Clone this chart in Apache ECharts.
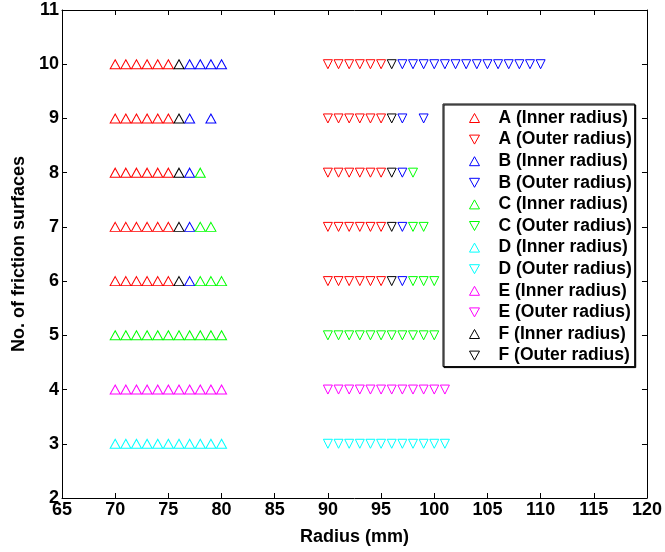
<!DOCTYPE html>
<html>
<head>
<meta charset="utf-8">
<script src="https://cdn.jsdelivr.net/npm/echarts@6/dist/echarts.min.js"></script>
<style>
  html, body { margin: 0; padding: 0; background: #fff; }
  #chart { width: 665px; height: 552px; }
</style>
</head>
<body>
<div id="chart"></div>
<script>
// Radius (mm) vs number of friction surfaces for six designs, A–F.
const xTicks = { min: 65, max: 120, step: 5 };
const yTicks = { min: 2, max: 11, step: 1 };

const aInner = [
  [70,10],[71,10],[72,10],[73,10],[74,10],[75,10],
  [70,9],[71,9],[72,9],[73,9],[74,9],[75,9],
  [70,8],[71,8],[72,8],[73,8],[74,8],[75,8],
  [70,7],[71,7],[72,7],[73,7],[74,7],[75,7],
  [70,6],[71,6],[72,6],[73,6],[74,6],[75,6]
];
const aOuter = [
  [90,10],[91,10],[92,10],[93,10],[94,10],[95,10],
  [90,9],[91,9],[92,9],[93,9],[94,9],[95,9],
  [90,8],[91,8],[92,8],[93,8],[94,8],[95,8],
  [90,7],[91,7],[92,7],[93,7],[94,7],[95,7],
  [90,6],[91,6],[92,6],[93,6],[94,6],[95,6]
];
const bInner = [
  [77,10],[78,10],[79,10],[80,10],
  [77,9],[79,9],
  [77,8],
  [77,7],
  [77,6]
];
const bOuter = [
  [97,10],[98,10],[99,10],[100,10],[101,10],[102,10],[103,10],
  [104,10],[105,10],[106,10],[107,10],[108,10],[109,10],[110,10],
  [97,9],[99,9],
  [97,8],
  [97,7],
  [97,6]
];
const cInner = [
  [78,8],
  [78,7],[79,7],
  [78,6],[79,6],[80,6],
  [70,5],[71,5],[72,5],[73,5],[74,5],[75,5],[76,5],[77,5],[78,5],[79,5],[80,5]
];
const cOuter = [
  [98,8],
  [98,7],[99,7],
  [98,6],[99,6],[100,6],
  [90,5],[91,5],[92,5],[93,5],[94,5],[95,5],[96,5],[97,5],[98,5],[99,5],[100,5]
];
const dInner = [
  [70,3],[71,3],[72,3],[73,3],[74,3],[75,3],[76,3],[77,3],[78,3],[79,3],[80,3]
];
const dOuter = [
  [90,3],[91,3],[92,3],[93,3],[94,3],[95,3],[96,3],[97,3],[98,3],[99,3],[100,3],[101,3]
];
const eInner = [
  [70,4],[71,4],[72,4],[73,4],[74,4],[75,4],[76,4],[77,4],[78,4],[79,4],[80,4]
];
const eOuter = [
  [90,4],[91,4],[92,4],[93,4],[94,4],[95,4],[96,4],[97,4],[98,4],[99,4],[100,4],[101,4]
];
const fInner = [[76,10],[76,9],[76,8],[76,7],[76,6]];
const fOuter = [[96,10],[96,9],[96,8],[96,7],[96,6]];

const seriesDefs = [
  { name: 'A (Inner radius)', data: aInner, color: '#ff0000', up: true },
  { name: 'A (Outer radius)', data: aOuter, color: '#ff0000', up: false },
  { name: 'B (Inner radius)', data: bInner, color: '#0000ff', up: true },
  { name: 'B (Outer radius)', data: bOuter, color: '#0000ff', up: false },
  { name: 'C (Inner radius)', data: cInner, color: '#00ff00', up: true },
  { name: 'C (Outer radius)', data: cOuter, color: '#00ff00', up: false },
  { name: 'D (Inner radius)', data: dInner, color: '#00ffff', up: true },
  { name: 'D (Outer radius)', data: dOuter, color: '#00ffff', up: false },
  { name: 'E (Inner radius)', data: eInner, color: '#ff00ff', up: true },
  { name: 'E (Outer radius)', data: eOuter, color: '#ff00ff', up: false },
  { name: 'F (Inner radius)', data: fInner, color: '#000000', up: true },
  { name: 'F (Outer radius)', data: fOuter, color: '#000000', up: false }
];

const UP = 'path://M5,0L10,9L0,9Z';
const DOWN = 'path://M0,0L10,0L5,9Z';
const FONT = '"Liberation Sans", Arial, Helvetica, sans-serif';

const chart = echarts.init(document.getElementById('chart'), null, { renderer: 'canvas' });

function axisCommon(showLabels) {
  return {
    axisLine: { show: true, onZero: false, lineStyle: { color: '#000', width: 1 } },
    axisTick: { show: true, inside: true, length: 5, lineStyle: { color: '#000', width: 1 } },
    axisLabel: {
      show: showLabels, color: '#000', fontFamily: FONT, fontWeight: 'bold', fontSize: 18, margin: 3
    },
    splitLine: { show: false }
  };
}

chart.setOption({
  animation: false,
  backgroundColor: '#fff',
  grid: { left: 62, right: 14, top: 10, bottom: 54, containLabel: false },
  xAxis: [
    Object.assign({
      type: 'value', position: 'bottom', min: xTicks.min, max: xTicks.max, interval: xTicks.step,
      name: 'Radius (mm)', nameLocation: 'middle', nameGap: 30,
      nameTextStyle: { color: '#000', fontFamily: FONT, fontWeight: 'bold', fontSize: 18 }
    }, axisCommon(true)),
    Object.assign({
      type: 'value', position: 'top', min: xTicks.min, max: xTicks.max, interval: xTicks.step
    }, axisCommon(false))
  ],
  yAxis: [
    Object.assign({
      type: 'value', position: 'left', min: yTicks.min, max: yTicks.max, interval: yTicks.step,
      name: 'No. of friction surfaces', nameLocation: 'middle', nameGap: 32,
      nameTextStyle: { color: '#000', fontFamily: FONT, fontWeight: 'bold', fontSize: 18 }
    }, axisCommon(true)),
    Object.assign({
      type: 'value', position: 'right', min: yTicks.min, max: yTicks.max, interval: yTicks.step
    }, axisCommon(false))
  ],
  legend: {
    orient: 'vertical',
    left: 443, top: 104,
    padding: [5, 3, 2, 26],
    itemGap: 3.6,
    itemWidth: 10, itemHeight: 9,
    backgroundColor: '#fff',
    borderColor: '#000', borderWidth: 1,
    shadowColor: '#000', shadowOffsetX: 1, shadowOffsetY: 1, shadowBlur: 0,
    selectedMode: false,
    itemStyle: { borderWidth: 1 },
    textStyle: {
      color: '#000', fontFamily: FONT, fontWeight: 'bold', fontSize: 17.5,
      lineHeight: 18, padding: [0, 0, 0, 14]
    },
    data: seriesDefs.map(s => ({ name: s.name, icon: s.up ? UP : DOWN }))
  },
  series: seriesDefs.map(s => ({
    type: 'scatter',
    name: s.name,
    data: s.data,
    symbol: s.up ? UP : DOWN,
    symbolSize: s.up ? [10, 9] : [9, 9],
    itemStyle: { color: 'rgba(0,0,0,0)', borderColor: s.color, borderWidth: 1, opacity: 1 },
    emphasis: { disabled: true },
    silent: true
  }))
});
</script>
</body>
</html>
